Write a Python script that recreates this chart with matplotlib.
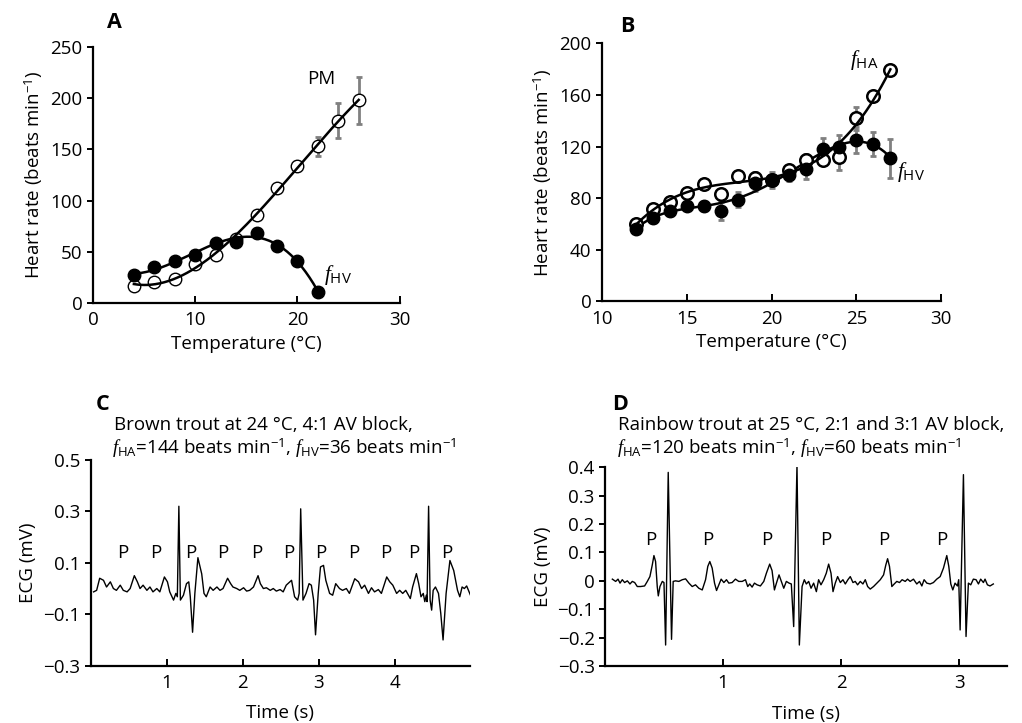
"""
Heart rate vs temperature in trout (A, B) and two ECG traces showing AV block (C, D).
"""

import numpy as np
import matplotlib
matplotlib.use("Agg")
import matplotlib.pyplot as plt

plt.rcParams["font.family"] = ["Open Sans", "DejaVu Sans"]
plt.rcParams["mathtext.fontset"] = "custom"
plt.rcParams["mathtext.rm"] = "Open Sans"
plt.rcParams["mathtext.it"] = "Liberation Serif:italic"
plt.rcParams["mathtext.bf"] = "Open Sans:bold"

# ---- Panel A: pacemaker rate and ventricular rate ----
temp_a_pm = [4, 6, 8, 10, 12, 14, 16, 18, 20, 22, 24, 26]
rate_a_pm = [17, 20, 23, 38, 47, 62, 86, 112, 134, 153, 178, 198]
err_a_pm = [2, 2, 2, 3, 3, 3, 3, 3, 5, 9, 17, 23]

temp_a_hv = [4, 6, 8, 10, 12, 14, 16, 18, 20, 22]
rate_a_hv = [27, 35, 41, 47, 59, 60, 68, 56, 41, 11]
err_a_hv = [2, 2, 2, 2, 2, 3, 5, 4, 4, 2]

# ---- Panel B: atrial and ventricular rate ----
temp_b = [12, 13, 14, 15, 16, 17, 18, 19, 20, 21, 22, 23, 24, 25, 26, 27]
rate_b_ha = [60, 72, 77, 84, 91, 83, 97, 96, 94, 102, 110, 110, 112, 142, 159, 179]
err_b_ha = [2, 3, 3, 3, 3, 4, 3, 4, 4, 4, 4, 4, 10, 9, 3, 3]
rate_b_hv = [56, 65, 70, 74, 74, 70, 79, 92, 94, 98, 103, 118, 120, 125, 122, 111]
err_b_hv = [2, 4, 4, 3, 4, 7, 6, 6, 6, 5, 8, 9, 9, 10, 9, 15]

# ---- Panel C: brown trout ECG (time s, mV) ----
ecg_c = [
    (0.04, -0.013), (0.08, -0.007), (0.12, 0.04), (0.17, 0.032), (0.21, 0.006),
    (0.26, 0.026), (0.30, 0.0), (0.34, -0.007), (0.39, 0.013), (0.43, -0.007),
    (0.48, -0.013), (0.52, 0.0), (0.575, 0.05), (0.615, 0.026), (0.65, 0.0),
    (0.69, 0.013), (0.74, -0.007), (0.78, 0.006), (0.82, -0.013), (0.87, 0.0),
    (0.91, -0.013), (0.97, 0.045), (1.01, 0.026), (1.04, -0.013), (1.09, -0.045),
    (1.12, -0.019), (1.14, -0.032), (1.16, 0.32), (1.18, -0.045), (1.22, -0.026),
    (1.26, 0.019), (1.29, 0.026), (1.31, -0.032), (1.34, -0.17), (1.37, -0.019),
    (1.41, 0.12), (1.46, 0.057), (1.49, -0.019), (1.52, -0.032), (1.57, 0.006),
    (1.61, -0.007), (1.66, 0.006), (1.70, -0.007), (1.74, 0.0), (1.80, 0.04),
    (1.84, 0.019), (1.87, 0.006), (1.92, 0.0), (1.96, -0.007), (2.01, 0.003),
    (2.05, -0.01), (2.09, -0.007), (2.14, 0.006), (2.20, 0.05), (2.23, 0.019),
    (2.27, 0.0), (2.31, 0.003), (2.36, -0.007), (2.40, 0.0), (2.44, -0.01),
    (2.49, -0.004), (2.53, -0.013), (2.57, 0.013), (2.64, 0.032), (2.68, -0.032),
    (2.72, -0.045), (2.74, -0.019), (2.76, 0.31), (2.79, -0.045), (2.83, -0.019),
    (2.87, 0.019), (2.90, 0.013), (2.93, -0.045), (2.955, -0.18), (2.99, -0.019),
    (3.02, 0.084), (3.06, 0.09), (3.09, 0.032), (3.14, -0.019), (3.18, -0.026),
    (3.22, 0.019), (3.27, 0.0), (3.31, -0.007), (3.36, 0.0), (3.40, -0.019),
    (3.47, 0.038), (3.52, 0.026), (3.56, 0.0), (3.60, 0.013), (3.65, -0.019),
    (3.69, 0.003), (3.73, -0.013), (3.78, -0.004), (3.82, -0.019), (3.89, 0.045),
    (3.93, 0.026), (3.97, 0.013), (4.02, -0.019), (4.06, -0.007), (4.10, -0.019),
    (4.14, -0.007), (4.20, -0.039), (4.23, 0.006), (4.28, 0.058), (4.31, 0.019),
    (4.34, -0.032), (4.37, -0.019), (4.39, -0.051), (4.41, -0.026), (4.42, -0.051),
    (4.44, 0.32), (4.46, -0.045), (4.48, -0.084), (4.50, -0.007), (4.53, 0.006),
    (4.57, -0.019), (4.60, -0.097), (4.63, -0.2), (4.67, -0.019), (4.72, 0.109),
    (4.77, 0.07), (4.82, -0.007), (4.85, -0.032), (4.88, 0.006), (4.91, 0.0),
    (4.94, 0.01), (4.99, -0.026),
]
p_c_time = [0.42, 0.86, 1.31, 1.74, 2.18, 2.60, 3.02, 3.46, 3.88, 4.25, 4.68]
p_c_level = 0.14

# ---- Panel D: rainbow trout ECG (time s, mV) ----
ecg_d = [
    (0.062, 0.006), (0.090, -0.002), (0.110, 0.006), (0.127, -0.008), (0.146, 0.004),
    (0.166, -0.006), (0.189, 0.0), (0.211, -0.011), (0.231, -0.002), (0.251, -0.006),
    (0.273, -0.020), (0.301, -0.020), (0.335, -0.018), (0.358, -0.002), (0.380, 0.015),
    (0.400, 0.056), (0.414, 0.089), (0.428, 0.068), (0.442, -0.020), (0.451, -0.053),
    (0.465, -0.020), (0.485, -0.002), (0.499, -0.006), (0.513, -0.226), (0.535, 0.382),
    (0.563, -0.206), (0.577, -0.002), (0.597, 0.0), (0.625, -0.002), (0.654, 0.004),
    (0.682, 0.007), (0.710, -0.008), (0.738, -0.020), (0.766, -0.014), (0.794, -0.026),
    (0.823, -0.032), (0.851, 0.004), (0.870, 0.051), (0.887, 0.068), (0.907, 0.045),
    (0.927, -0.008), (0.944, -0.034), (0.963, -0.014), (0.983, 0.006), (1.006, -0.006),
    (1.028, 0.004), (1.048, -0.008), (1.076, -0.006), (1.104, 0.006), (1.132, -0.002),
    (1.161, -0.002), (1.189, 0.004), (1.208, -0.020), (1.225, -0.011), (1.245, -0.022),
    (1.265, -0.008), (1.287, -0.014), (1.315, -0.018), (1.344, -0.002), (1.366, 0.027),
    (1.394, 0.059), (1.414, 0.036), (1.434, -0.032), (1.451, -0.008), (1.473, 0.021),
    (1.493, -0.002), (1.513, -0.026), (1.535, -0.002), (1.558, -0.008), (1.577, -0.011),
    (1.597, -0.161), (1.625, 0.409), (1.645, -0.226), (1.668, -0.020), (1.687, 0.004),
    (1.704, -0.011), (1.724, -0.002), (1.744, -0.026), (1.766, -0.008), (1.789, -0.038),
    (1.808, 0.004), (1.828, -0.014), (1.851, 0.004), (1.873, 0.027), (1.893, 0.059),
    (1.913, 0.027), (1.930, -0.038), (1.949, -0.008), (1.969, 0.015), (1.992, -0.006),
    (2.014, 0.004), (2.034, -0.011), (2.056, 0.004), (2.076, 0.015), (2.099, -0.006),
    (2.118, -0.002), (2.138, -0.014), (2.161, -0.002), (2.183, -0.011), (2.203, 0.004),
    (2.223, -0.020), (2.245, -0.029), (2.273, -0.020), (2.301, -0.008), (2.330, 0.004),
    (2.358, 0.021), (2.377, 0.056), (2.392, 0.078), (2.408, 0.051), (2.428, -0.020),
    (2.448, -0.011), (2.470, -0.002), (2.493, -0.006), (2.515, 0.004), (2.541, -0.002),
    (2.561, 0.006), (2.583, -0.002), (2.611, 0.006), (2.639, -0.011), (2.662, -0.002),
    (2.682, -0.018), (2.701, 0.004), (2.724, -0.008), (2.752, -0.011), (2.780, -0.006),
    (2.808, 0.006), (2.837, 0.015), (2.865, 0.045), (2.893, 0.089), (2.910, 0.051),
    (2.927, -0.011), (2.944, -0.032), (2.963, -0.008), (2.983, -0.018), (2.994, 0.004),
    (3.006, -0.173), (3.034, 0.374), (3.056, -0.196), (3.076, -0.008), (3.096, -0.014),
    (3.118, 0.006), (3.141, 0.004), (3.161, -0.011), (3.180, 0.006), (3.203, -0.006),
    (3.217, 0.006), (3.237, -0.014), (3.259, -0.018), (3.287, -0.011),
]
p_d_time = [0.39, 0.87, 1.37, 1.865, 2.36, 2.85]
p_d_level = 0.145

FS = 13.5
GREY = "#808080"


def style_axes(ax):
    for side in ("top", "right"):
        ax.spines[side].set_visible(False)
    for side in ("left", "bottom"):
        ax.spines[side].set_linewidth(1.6)
    ax.tick_params(axis="y", direction="out", length=4, width=1.4, labelsize=FS)
    ax.tick_params(axis="x", direction="in", length=5, width=1.4, labelsize=FS, pad=6)


def fit_curve(x, y, deg):
    """Polynomial trend line through the points, like the fitted curves in the figure."""
    coef = np.polyfit(x, y, deg)
    xs = np.linspace(min(x), max(x), 200)
    return xs, np.polyval(coef, xs)


def draw_series(ax, x, y, err, filled, deg, mew=1.0):
    ax.errorbar(x, y, yerr=err, fmt="none", ecolor=GREY, elinewidth=2,
                capsize=2.5, capthick=2, zorder=2)
    xs, ys = fit_curve(x, y, deg)
    if filled:
        ax.plot(xs, ys, color="black", lw=1.8, zorder=3)
        ax.plot(x, y, "o", ms=9, mfc="black", mec="black", zorder=4)
    else:
        ax.plot(x, y, "o", ms=9, mfc="white", mec="black", mew=mew, zorder=3)
        ax.plot(xs, ys, color="black", lw=1.8, zorder=3.5)


def ecg_panel(ax, trace, p_time, p_level, xlim, yticks, ylabels):
    t, v = np.array(trace).T
    ax.plot(t, v, color="black", lw=1.0)
    for tp in p_time:
        ax.text(tp, p_level, "P", ha="center", va="center", fontsize=FS)
    ax.set_xlim(*xlim)
    ax.set_ylim(yticks[0], yticks[-1])
    ax.set_yticks(yticks)
    ax.set_yticklabels(ylabels)
    ax.set_xlabel("Time (s)", fontsize=FS, labelpad=9)
    ax.set_ylabel("ECG (mV)", fontsize=FS)
    style_axes(ax)


def main():
    fig = plt.figure(figsize=(10.22, 7.23), dpi=100)
    rate_label = r"Heart rate (beats min$^{-1}$)"

    # A
    ax_a = fig.add_axes([0.091, 0.581, 0.300, 0.354])
    draw_series(ax_a, temp_a_pm, rate_a_pm, err_a_pm, filled=False, deg=3)
    draw_series(ax_a, temp_a_hv, rate_a_hv, err_a_hv, filled=True, deg=3)
    ax_a.set_xlim(0, 30)
    ax_a.set_ylim(0, 250)
    ax_a.set_xticks([0, 10, 20, 30])
    ax_a.set_yticks([0, 50, 100, 150, 200, 250])
    ax_a.set_xlabel("Temperature (°C)", fontsize=FS)
    ax_a.set_ylabel(rate_label, fontsize=FS)
    ax_a.text(22.3, 219, "PM", ha="center", va="center", fontsize=FS)
    ax_a.text(22.6, 27, r"$f_{\mathrm{HV}}$", ha="left", va="center", fontsize=FS + 2)
    style_axes(ax_a)

    # B
    ax_b = fig.add_axes([0.589, 0.583, 0.332, 0.357])
    draw_series(ax_b, temp_b, rate_b_hv, err_b_hv, filled=True, deg=5)
    draw_series(ax_b, temp_b, rate_b_ha, err_b_ha, filled=False, deg=3, mew=1.8)
    ax_b.set_xlim(10, 30)
    ax_b.set_ylim(0, 200)
    ax_b.set_xticks([10, 15, 20, 25, 30])
    ax_b.set_yticks([0, 40, 80, 120, 160, 200])
    ax_b.set_xlabel("Temperature (°C)", fontsize=FS)
    ax_b.set_ylabel(rate_label, fontsize=FS)
    ax_b.text(24.6, 187, r"$f_{\mathrm{HA}}$", ha="left", va="center", fontsize=FS + 2)
    ax_b.text(27.4, 100, r"$f_{\mathrm{HV}}$", ha="left", va="center", fontsize=FS + 2)
    style_axes(ax_b)

    # C
    ax_c = fig.add_axes([0.0886, 0.0793, 0.371, 0.2845])
    ecg_panel(ax_c, ecg_c, p_c_time, p_c_level, (0, 4.98),
              [-0.3, -0.1, 0.1, 0.3, 0.5], ["\u22120.3", "\u22120.1", "0.1", "0.3", "0.5"])
    ax_c.set_xticks([1, 2, 3, 4])

    # D
    ax_d = fig.add_axes([0.592, 0.0788, 0.393, 0.2749])
    ecg_panel(ax_d, ecg_d, p_d_time, p_d_level, (0, 3.4),
              [-0.3, -0.2, -0.1, 0, 0.1, 0.2, 0.3, 0.4],
              ["\u22120.3", "\u22120.2", "\u22120.1", "0", "0.1", "0.2", "0.3", "0.4"])
    ax_d.set_xticks([1, 2, 3])

    # panel letters and ECG captions
    for x, y, s in [(114, 22, "A"), (627, 26, "B"), (103, 404, "C"), (620, 404, "D")]:
        fig.text(x / 1022, 1 - y / 723, s, ha="center", va="center",
                 fontsize=FS + 2, fontweight="bold")
    fig.text(114 / 1022, 1 - 425 / 723, "Brown trout at 24 °C, 4:1 AV block,",
             ha="left", va="center", fontsize=FS)
    fig.text(112 / 1022, 1 - 448 / 723,
             r"$f_{\mathrm{HA}}$=144 beats min$^{-1}$, $f_{\mathrm{HV}}$=36 beats min$^{-1}$",
             ha="left", va="center", fontsize=FS)
    fig.text(618 / 1022, 1 - 425 / 723, "Rainbow trout at 25 °C, 2:1 and 3:1 AV block,",
             ha="left", va="center", fontsize=FS)
    fig.text(617 / 1022, 1 - 448 / 723,
             r"$f_{\mathrm{HA}}$=120 beats min$^{-1}$, $f_{\mathrm{HV}}$=60 beats min$^{-1}$",
             ha="left", va="center", fontsize=FS)

    fig.savefig("out.png", dpi=100)


if __name__ == "__main__":
    main()
